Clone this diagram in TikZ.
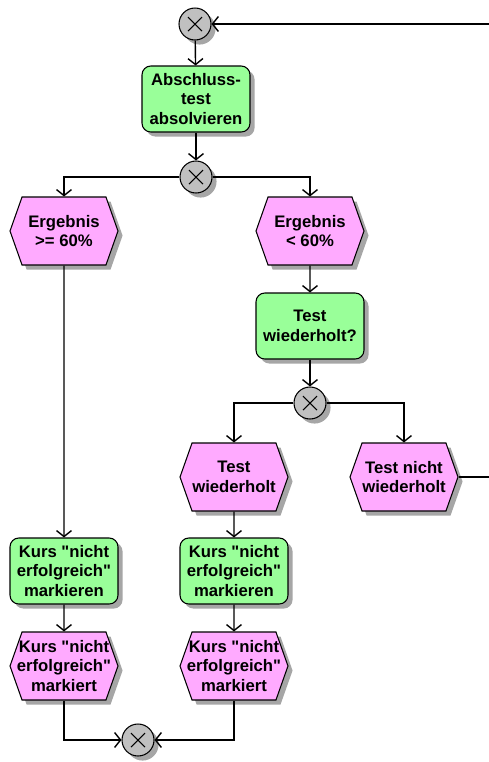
\documentclass[tikz,border=0pt]{standalone}
\usepackage{fontspec}
\setmainfont{Liberation Sans}
\usepackage{xcolor}
\definecolor{funktionGruen}{HTML}{99FF99}
\definecolor{ereignisRosa}{HTML}{FFAAFF}
\definecolor{xorGrau}{HTML}{C0C0C0}
\definecolor{schattenGrau}{HTML}{A6A6A6}
\usepackage{tikz}
\usetikzlibrary{shapes.symbols, shadows, arrows.meta, positioning}
\newcommand{\gq}{\textquotedbl}

\begin{document}
\begin{tikzpicture}[x=0.02cm, y=-0.02cm,
    every node/.style={font=\bfseries\fontsize{9.5}{11.3}\selectfont, align=center},
    schatten/.style={drop shadow={shadow xshift=2.6pt, shadow yshift=-2.6pt, fill=schattenGrau, opacity=1}},
    funktion/.style={draw, line width=0.6pt, fill=funktionGruen, rounded corners=5pt, minimum width=2.16cm, minimum height=1.32cm, inner sep=0pt, schatten},
    ereignis/.style={draw, line width=0.6pt, fill=ereignisRosa, signal, signal to=west and east, signal pointer angle=141, minimum width=2.16cm, minimum height=1.36cm, inner sep=0pt, inner xsep=-7pt, schatten},
    xor/.style={draw, line width=0.6pt, fill=xorGrau, circle, minimum size=0.64cm, inner sep=0pt, schatten,
        path picture={\draw[line width=0.6pt] ([shift={(-0.14cm,0.14cm)}]path picture bounding box.center) -- ++(0.28cm,-0.28cm)
            ([shift={(-0.14cm,-0.14cm)}]path picture bounding box.center) -- ++(0.28cm,0.28cm);}},
    fluss/.style={line width=0.8pt, -{Straight Barb[length=3.4pt, width=8.5pt, line width=0.8pt]}},
    linie/.style={line width=0.8pt}]
    \useasboundingbox (0,0) rectangle (489,762);

    % Start und Abschlusstest
    \node[xor] (xorStart) at (195,24) {};
    \coordinate (rueckkehr) at (489,24);
    \node[funktion] (absolvieren) at (196,99) {Abschluss-\\test\\absolvieren};
    \node[xor] (xorErgebnis) at (196,177) {};

    % Ergebnisse
    \node[ereignis] (ergGut) at (64,231) {Ergebnis\\>= 60\%};
    \node[ereignis] (ergSchlecht) at (310,231) {Ergebnis\\< 60\%};
    \node[funktion] (testFrage) at (310,326) {Test\\wiederholt?};
    \node[xor] (xorTest) at (310,403) {};
    \node[ereignis] (testJa) at (234,477) {Test\\wiederholt};
    \node[ereignis] (testNein) at (404,477) {Test nicht\\wiederholt};
    \coordinate (ausgang) at (489,477);

    % Kurs markieren
    \node[funktion] (markLinks) at (64,571) {Kurs \gq nicht\\erfolgreich\gq\\markieren};
    \node[funktion] (markRechts) at (234,571) {Kurs \gq nicht\\erfolgreich\gq\\markieren};
    \node[ereignis] (markiertLinks) at (64,666) {Kurs \gq nicht\\erfolgreich\gq\\markiert};
    \node[ereignis] (markiertRechts) at (234,666) {Kurs \gq nicht\\erfolgreich\gq\\markiert};
    \node[xor] (xorEnde) at (138,740) {};

    % Kontrollfluss
    \draw[fluss] (rueckkehr) -- (xorStart);
    \draw[fluss] (xorStart) -- (absolvieren);
    \draw[fluss] (absolvieren) -- (xorErgebnis);
    \draw[fluss] (xorErgebnis.west) -| (ergGut.north);
    \draw[fluss] (xorErgebnis.east) -| (ergSchlecht.north);
    \draw[fluss] (ergSchlecht) -- (testFrage);
    \draw[fluss] (testFrage) -- (xorTest);
    \draw[fluss] (xorTest.west) -| (testJa.north);
    \draw[fluss] (xorTest.east) -| (testNein.north);
    \draw[linie] (testNein.east) -- (ausgang);
    \draw[fluss] (ergGut) -- (markLinks);
    \draw[fluss] (testJa) -- (markRechts);
    \draw[fluss] (markLinks) -- (markiertLinks);
    \draw[fluss] (markRechts) -- (markiertRechts);
    \draw[fluss] (markiertLinks.south) |- (xorEnde.west);
    \draw[fluss] (markiertRechts.south) |- (xorEnde.east);
\end{tikzpicture}
\end{document}
